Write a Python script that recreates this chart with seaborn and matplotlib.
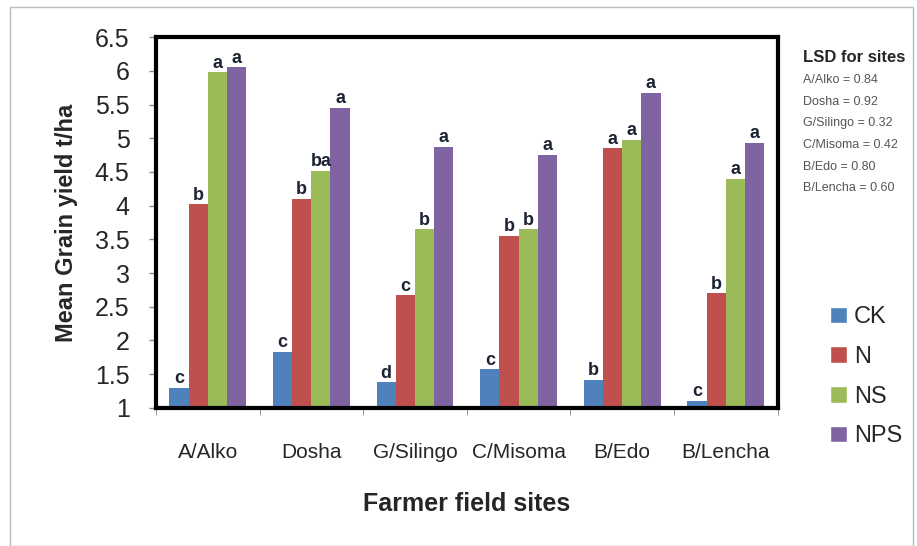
import pandas as pd
import matplotlib.pyplot as plt
import seaborn as sns
from matplotlib.patches import Patch

sites = ['A/Alko', 'Dosha', 'G/Silingo', 'C/Misoma', 'B/Edo', 'B/Lencha']
treatments = ['CK', 'N', 'NS', 'NPS']
ck = [1.30, 1.83, 1.38, 1.57, 1.42, 1.10]
n = [4.02, 4.10, 2.67, 3.55, 4.85, 2.70]
ns = [5.98, 4.52, 3.65, 3.65, 4.98, 4.40]
nps = [6.05, 5.45, 4.87, 4.75, 5.67, 4.93]
letters = [
    ['c', 'c', 'd', 'c', 'b', 'c'],
    ['b', 'b', 'c', 'b', 'a', 'b'],
    ['a', 'ba', 'b', 'b', 'a', 'a'],
    ['a', 'a', 'a', 'a', 'a', 'a'],
]
lsd_lines = ['A/Alko = 0.84', 'Dosha = 0.92', 'G/Silingo = 0.32',
             'C/Misoma = 0.42', 'B/Edo = 0.80', 'B/Lencha = 0.60']
yticks = [1, 1.5, 2, 2.5, 3, 3.5, 4, 4.5, 5, 5.5, 6, 6.5]

colors = ['#4F81BD', '#C0504D', '#9BBB59', '#8064A2']

df = pd.DataFrame({
    'site': sites * 4,
    'treatment': [t for t in treatments for _ in sites],
    'yield': ck + n + ns + nps,
})

sns.set_style('white')
plt.rcParams['font.family'] = ['Liberation Sans', 'DejaVu Sans']

fig = plt.figure(figsize=(9.17, 5.46), dpi=100)
ax = fig.add_axes([0.170, 0.253, 0.678, 0.679])

sns.barplot(data=df, x='site', y='yield', hue='treatment', order=sites,
            hue_order=treatments, palette=colors, width=0.74, saturation=1,
            linewidth=0, errorbar=None, ax=ax, legend=False)

# significance letters
for container, labs in zip(ax.containers, letters):
    for bar, lab in zip(container, labs):
        ax.text(bar.get_x() + bar.get_width() / 2, bar.get_height() + 0.01, lab,
                ha='center', va='bottom', fontsize=13, fontweight='bold',
                color='#1c2333')

ax.set_ylim(1, 6.5)
ax.set_yticks(yticks)
ax.set_yticklabels([f'{v:g}' for v in yticks], fontsize=18)
ax.tick_params(axis='y', length=5, width=1, color='#888888', left=True, pad=14)
ax.set_xticks(range(len(sites)))
ax.set_xticklabels(sites, fontsize=15)
ax.set_xticks([i - 0.5 for i in range(len(sites) + 1)], minor=True)
ax.tick_params(axis='x', which='major', length=0, pad=25)
ax.tick_params(axis='x', which='minor', length=5, color='#888888', bottom=True)
ax.set_xlim(-0.5, len(sites) - 0.5)

for s in ax.spines.values():
    s.set_linewidth(3)
    s.set_color('black')

ax.set_xlabel('Farmer field sites', fontsize=18, fontweight='bold', labelpad=22)
ax.set_ylabel('Mean Grain yield t/ha', fontsize=17, fontweight='bold', labelpad=12)

handles = [Patch(facecolor=c, label=t) for c, t in zip(colors, treatments)]
fig.legend(handles=handles, loc='center left', bbox_to_anchor=(0.882, 0.31),
           frameon=False, fontsize=17, handlelength=0.7, handleheight=0.7,
           handletextpad=0.3, labelspacing=0.75)

fig.text(0.876, 0.894, 'LSD for sites', fontsize=12, fontweight='bold',
         va='center')
for i, line in enumerate(lsd_lines):
    fig.text(0.876, 0.853 - i * 0.0395, line, fontsize=9, color='#555555',
             va='center')

# thin border around the whole picture
fig.patches.append(plt.Rectangle((0.011, 0.0), 0.985, 0.987, transform=fig.transFigure,
                                 fill=False, edgecolor='#bbbbbb', linewidth=1))

fig.savefig('out.png', dpi=100)
